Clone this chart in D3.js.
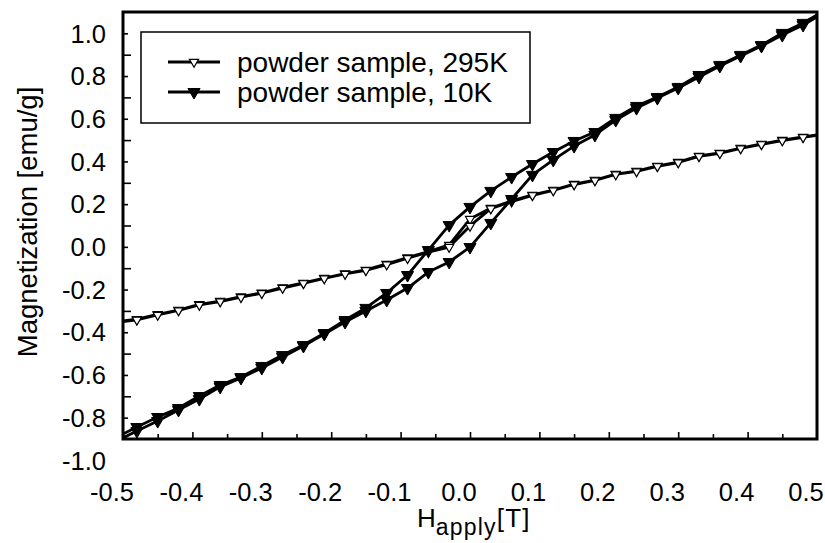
<!DOCTYPE html>
<html><head><meta charset="utf-8">
<script src="https://cdn.jsdelivr.net/npm/d3@7"></script>
<style>body{margin:0;background:#fff} text{font-family:"Liberation Sans",Arial,sans-serif;fill:#000}</style>
</head><body><svg id="c" width="825" height="543"></svg>
<script>
// applied field [T]
const fieldT = [-0.50,-0.48,-0.45,-0.42,-0.39,-0.36,-0.33,-0.30,-0.27,-0.24,-0.21,-0.18,-0.15,-0.12,-0.09,-0.06,-0.03,0.00,0.03,0.06,0.09,0.12,0.15,0.18,0.21,0.24,0.27,0.30,0.33,0.36,0.39,0.42,0.45,0.48,0.50];
// 295K, decreasing-field branch and increasing-field branch
const m295Dec = [-0.347,-0.339,-0.316,-0.296,-0.269,-0.254,-0.233,-0.215,-0.190,-0.169,-0.146,-0.125,-0.108,-0.080,-0.050,-0.022,0.009,0.130,0.182,0.215,0.243,0.266,0.294,0.313,0.341,0.355,0.379,0.397,0.426,0.440,0.463,0.482,0.500,0.515,0.524];
const m295Inc = [-0.350,-0.342,-0.319,-0.298,-0.272,-0.256,-0.236,-0.217,-0.193,-0.171,-0.148,-0.127,-0.110,-0.083,-0.053,-0.025,-0.001,0.098,0.179,0.212,0.241,0.264,0.292,0.311,0.339,0.353,0.377,0.395,0.424,0.438,0.461,0.480,0.498,0.513,0.522];
// 10K, decreasing-field branch and increasing-field branch
const m10Dec = [-0.877,-0.844,-0.797,-0.755,-0.699,-0.647,-0.610,-0.558,-0.507,-0.460,-0.404,-0.343,-0.286,-0.216,-0.132,-0.015,0.102,0.187,0.262,0.327,0.388,0.444,0.496,0.538,0.604,0.660,0.702,0.749,0.805,0.852,0.899,0.945,1.002,1.049,1.086];
const m10Inc = [-0.895,-0.863,-0.816,-0.764,-0.713,-0.656,-0.614,-0.567,-0.516,-0.464,-0.408,-0.352,-0.300,-0.249,-0.193,-0.118,-0.071,-0.001,0.112,0.224,0.337,0.407,0.472,0.524,0.594,0.650,0.697,0.744,0.796,0.847,0.894,0.941,0.992,1.039,1.077];

const seriesNames = ["powder sample, 295K", "powder sample, 10K"];
const xTickLabels = ["-0.5","-0.4","-0.3","-0.2","-0.1","0.0","0.1","0.2","0.3","0.4","0.5"];
const yTickLabels = ["-1.0","-0.8","-0.6","-0.4","-0.2","0.0","0.2","0.4","0.6","0.8","1.0"];
const xMajor = [-0.4,-0.3,-0.2,-0.1,0,0.1,0.2,0.3,0.4];
const xMinor = [-0.45,-0.35,-0.25,-0.15,-0.05,0.05,0.15,0.25,0.35,0.45];
const yMajor = [-0.7,-0.5,-0.3,-0.1,0.1,0.3,0.5,0.7,0.9];
const yMinor = [-0.8,-0.6,-0.4,-0.2,0,0.2,0.4,0.6,0.8,1.0];

const svg = d3.select("#c");
const L = 123, R = 817, T = 12, B = 439;
const x = d3.scaleLinear([-0.5, 0.5], [L, R]);
const y = d3.scaleLinear([-0.9, 1.1], [B, T]);

svg.append("clipPath").attr("id","clip").append("rect")
  .attr("x", L).attr("y", T).attr("width", R - L).attr("height", B - T);

// ticks via d3 axes (inward)
function ax(gen, pos, vals, size) {
  const g = svg.append("g").attr("transform", pos)
    .call(gen.tickValues(vals).tickSize(size).tickSizeOuter(0).tickFormat(""));
  g.select(".domain").remove();
  g.selectAll("line").attr("stroke", "#000").attr("stroke-width", 1.6);
}
ax(d3.axisRight(y), `translate(${L},0)`, yMajor, 8);
ax(d3.axisRight(y), `translate(${L},0)`, yMinor, 5);
ax(d3.axisTop(x), `translate(0,${B})`, xMajor, 7);
ax(d3.axisTop(x), `translate(0,${B})`, xMinor, 5);

// tick labels
svg.append("g").selectAll("text").data(yTickLabels).join("text")
  .attr("x", 106).attr("y", d => y(+d)).attr("dy", "0.36em")
  .attr("text-anchor", "end").attr("font-size", 25.5).text(d => d);
svg.append("g").selectAll("text").data(xTickLabels).join("text")
  .attr("x", d => x(+d) - 11).attr("y", 501)
  .attr("text-anchor", "middle").attr("font-size", 25.5).text(d => d);

// axis titles
svg.append("text").attr("transform", "translate(37,222) rotate(-90)")
  .attr("text-anchor", "middle").attr("font-size", 27.5).text("Magnetization [emu/g]");
const xt = svg.append("text").attr("x", 417).attr("y", 527).attr("font-size", 26);
xt.append("tspan").text("H");
xt.append("tspan").attr("font-size", 23).attr("dy", 8).attr("letter-spacing", 1.2).text("apply");
xt.append("tspan").attr("font-size", 26).attr("dy", -8).attr("letter-spacing", 1.2).text("[T]");

// curves
const line = d3.line().x(d => x(d[0])).y(d => y(d[1]));
const loops = [
  {dec: m295Dec, inc: m295Inc, filled: false},
  {dec: m10Dec, inc: m10Inc, filled: true}
];
const plot = svg.append("g").attr("clip-path", "url(#clip)");
const tri = (s) => d3.symbol(d3.symbolTriangle, s)();
loops.forEach(s => {
  const decPts = fieldT.map((h, i) => [h, s.dec[i]]).reverse();
  const incPts = fieldT.map((h, i) => [h, s.inc[i]]);
  plot.append("path").attr("d", line(decPts.concat(incPts)))
    .attr("fill", "none").attr("stroke", "#000").attr("stroke-width", 2.8)
    .attr("stroke-linejoin", "round");
  const mk = decPts.concat(incPts).filter(p => Math.abs(p[0]) < 0.499);
  plot.append("g").selectAll("path").data(mk).join("path")
    .attr("d", tri(s.filled ? 64 : 36))
    .attr("transform", d => `translate(${x(d[0])},${y(d[1])}) rotate(180)`)
    .attr("fill", s.filled ? "#000" : "#fff")
    .attr("stroke", "#000").attr("stroke-width", s.filled ? 1 : 1.2);
});

// frame
svg.append("rect").attr("x", L).attr("y", T).attr("width", R - L).attr("height", B - T)
  .attr("fill", "none").attr("stroke", "#000").attr("stroke-width", 3);

// legend
const lg = svg.append("g");
lg.append("rect").attr("x", 141).attr("y", 32).attr("width", 389).attr("height", 91)
  .attr("fill", "#fff").attr("stroke", "#000").attr("stroke-width", 1.5);
seriesNames.forEach((name, i) => {
  const cy = 62 + i * 30;
  lg.append("line").attr("x1", 168).attr("x2", 220).attr("y1", cy).attr("y2", cy)
    .attr("stroke", "#000").attr("stroke-width", 3);
  lg.append("path").attr("d", tri(i ? 64 : 36))
    .attr("transform", `translate(194,${cy}) rotate(180)`)
    .attr("fill", i ? "#000" : "#fff").attr("stroke", "#000").attr("stroke-width", i ? 1 : 1.2);
  lg.append("text").attr("x", 237).attr("y", cy).attr("dy", "0.36em")
    .attr("font-size", 28).text(name);
});
</script></body></html>
